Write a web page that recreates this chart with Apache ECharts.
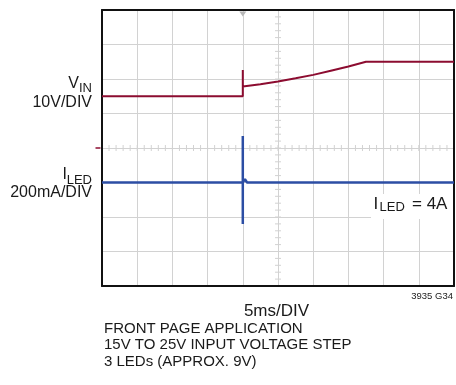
<!DOCTYPE html>
<html>
<head>
<meta charset="utf-8">
<script src="https://cdn.jsdelivr.net/npm/echarts@6/dist/echarts.min.js"></script>
<style>
  html, body { margin: 0; padding: 0; background: #fff; }
  #chart { width: 456px; height: 385px; }
</style>
</head>
<body>
<div id="chart"></div>
<script>
// scope settings: 5ms/DIV, 10 x 8 divisions
const timeMs = [0, 50];
const divRange = [-4, 4];
const vinRange = [-40, 40];     // 10V/DIV, centre = 0V
const iledRange = [3.4, 5.0];   // 200mA/DIV
const triggerMs = 20;

// VIN trace (ms, V)
const vinTime  = [0, 20, 20, 20, 22.5, 25, 27.5, 30, 32.5, 35, 37.5, 50];
const vinVolts = [15, 15, 22.6, 17.8, 18.5, 19.3, 20.2, 21.2, 22.4, 23.6, 25, 25];

// ILED trace (ms, A)
const iledTime = [0, 20, 20, 20, 20, 20.3, 20.6, 50];
const iledAmps = [4.0, 4.0, 4.27, 3.76, 4.0, 4.02, 4.0, 4.0];

const FONT = '"Liberation Sans", Arial, sans-serif';
const INK = '#1a1a1a';
const GRID = '#d2d2d2';
const FRAME = '#111';

const chart = echarts.init(document.getElementById('chart'));

// place text by its baseline
function txt(str, x, base, size, align) {
  return {
    type: 'text', z: 100,
    x: x, y: base - 0.36 * size,
    style: { text: str, font: size + 'px ' + FONT, fill: INK, align: align || 'left', verticalAlign: 'middle' }
  };
}

// minor ticks on the centre lines (5 per division), not on the frame
const hTicks = [];
for (let i = 1; i < 50; i++) hTicks.push([i, 0]);
const vTicks = [];
for (let i = -19; i < 20; i++) vTicks.push([25, i / 5]);

function tickRenderer(horizontal) {
  return function (params, api) {
    const p = api.coord([api.value(0), api.value(1)]);
    const s = horizontal
      ? { x1: p[0], y1: p[1] - 3, x2: p[0], y2: p[1] + 3 }
      : { x1: p[0] - 3, y1: p[1], x2: p[0] + 3, y2: p[1] };
    return { type: 'line', shape: s, style: { stroke: GRID, lineWidth: 1 } };
  };
}

// a bare axis that only draws one side of the frame
function frameAxis(extra) {
  return Object.assign({
    type: 'value', z: 2,
    axisLine: { show: true, onZero: false, lineStyle: { color: FRAME, width: 2 } },
    axisTick: { show: false }, axisLabel: { show: false }, splitLine: { show: false }
  }, extra);
}

const option = {
  animation: false,
  backgroundColor: '#fff',
  grid: { left: 102, right: 2, top: 10, bottom: 99, show: false },
  xAxis: [
    frameAxis({ min: timeMs[0], max: timeMs[1], interval: 5, position: 'bottom',
      splitLine: { show: true, lineStyle: { color: GRID, width: 1 } } }),
    frameAxis({ min: timeMs[0], max: timeMs[1], position: 'top' })
  ],
  yAxis: [
    frameAxis({ min: divRange[0], max: divRange[1], interval: 1, position: 'left',
      splitLine: { show: true, lineStyle: { color: GRID, width: 1 } } }),
    { type: 'value', min: vinRange[0], max: vinRange[1], show: false, splitLine: { show: false } },
    { type: 'value', min: iledRange[0], max: iledRange[1], show: false, splitLine: { show: false } },
    frameAxis({ min: divRange[0], max: divRange[1], position: 'right' })
  ],
  series: [
    { type: 'custom', silent: true, xAxisIndex: 0, yAxisIndex: 0, data: hTicks, renderItem: tickRenderer(true), z: 1 },
    { type: 'custom', silent: true, xAxisIndex: 0, yAxisIndex: 0, data: vTicks, renderItem: tickRenderer(false), z: 1 },
    {
      name: 'VIN', type: 'line', yAxisIndex: 1, showSymbol: false, silent: true, z: 5,
      data: vinTime.map((t, i) => [t, vinVolts[i]]),
      lineStyle: { color: '#8c0c30', width: 2 },
      markPoint: {
        silent: true, label: { show: false },
        data: [
          { coord: [triggerMs, vinRange[1]], symbol: 'triangle', symbolRotate: 180, symbolSize: [7, 5], symbolOffset: [0, 4], itemStyle: { color: '#b8b8b8' } },
          { coord: [timeMs[0], 0], symbol: 'rect', symbolSize: [5, 1.5], symbolOffset: [-4, 0], itemStyle: { color: '#8c0c30' } }
        ]
      }
    },
    {
      name: 'ILED', type: 'line', yAxisIndex: 2, showSymbol: false, silent: true, z: 6,
      data: iledTime.map((t, i) => [t, iledAmps[i]]),
      lineStyle: { color: '#2c4ea4', width: 2.5 }
    }
  ],
  graphic: [
    txt('V', 79, 89, 16, 'right'),
    txt('IN', 92, 93, 13, 'right'),
    txt('10V/DIV', 92, 108, 16, 'right'),
    txt('I', 67, 180.5, 16, 'right'),
    txt('LED', 92, 185, 13, 'right'),
    txt('200mA/DIV', 92, 198.5, 16, 'right'),
    { type: 'rect', z: 90, shape: { x: 371, y: 194, width: 82, height: 25 }, style: { fill: '#fff' } },
    txt('I', 373.5, 210, 17),
    txt('LED', 379.5, 212.5, 13),
    txt('= 4A', 412, 210, 17),
    txt('5ms/DIV', 276.5, 317, 17, 'center'),
    txt('3935 G34', 453, 299.5, 9.5, 'right'),
    txt('FRONT PAGE APPLICATION', 104, 334, 15),
    txt('15V TO 25V INPUT VOLTAGE STEP', 104, 350.7, 15),
    txt('3 LEDs (APPROX. 9V)', 104, 367.3, 15)
  ]
};

chart.setOption(option);
</script>
</body>
</html>
